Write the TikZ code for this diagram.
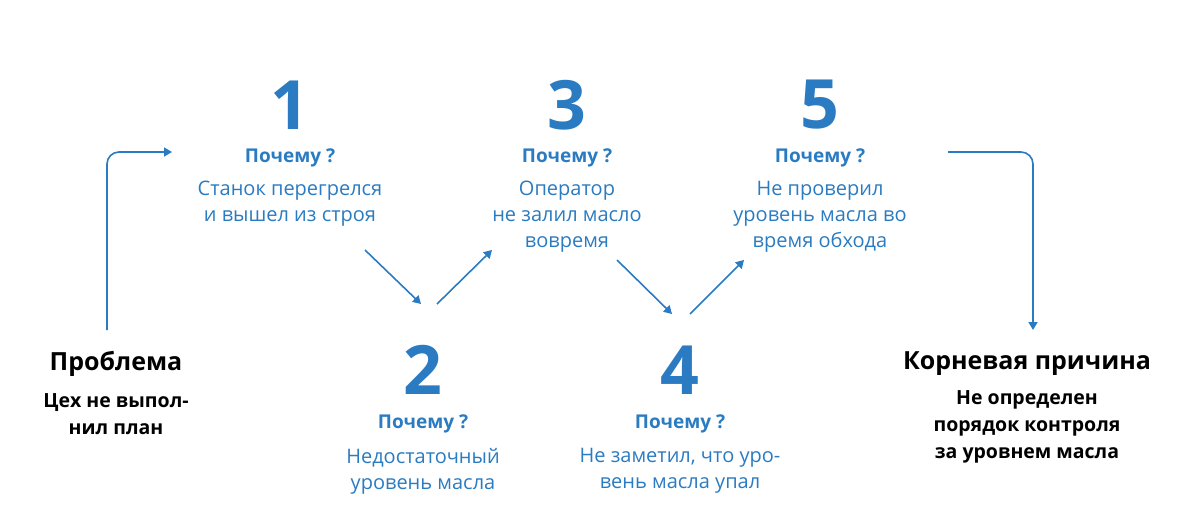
\documentclass[tikz,border=0pt]{standalone}
\usepackage{fontspec}
\setmainfont{Open Sans}
\usetikzlibrary{arrows.meta}
\definecolor{whyblue}{HTML}{2A7BC1}
\tikzset{
  num/.style={text=whyblue,font=\fontsize{68}{68}\selectfont\bfseries},
  why/.style={text=whyblue,font=\fontsize{19}{19}\selectfont\bfseries},
  ans/.style={text=whyblue,font=\fontsize{20}{26}\selectfont,align=center},
  head/.style={font=\fontsize{25}{25}\selectfont\bfseries},
  sub/.style={font=\fontsize{19.5}{27}\selectfont\bfseries,align=center},
  link/.style={draw=whyblue,line width=1.6pt,-{Triangle[width=9pt,length=8pt]}},
}
\begin{document}
\begin{tikzpicture}[x=1pt,y=-1pt]
  \useasboundingbox (0,0) rectangle (1201,519);

  \node[num] (n1) at (290,105) {1};
  \node[why] (w1) at (290,158) {Почему ?};
  \node[ans] (a1) at (290,204) {Станок перегрелся\\и вышел из строя};

  \node[num] (n2) at (423,370) {2};
  \node[why] (w2) at (423,424) {Почему ?};
  \node[ans] (a2) at (423,471) {Недостаточный\\уровень масла};

  \node[num] (n3) at (567,105) {3};
  \node[why] (w3) at (567,158) {Почему ?};
  \node[ans] (a3) at (567,217) {Оператор\\не залил масло\\вовремя};

  \node[num] (n4) at (680,370) {4};
  \node[why] (w4) at (680,424) {Почему ?};
  \node[ans] (a4) at (680,471) {Не заметил, что уро-\\вень масла упал};

  \node[num] (n5) at (820,105) {5};
  \node[why] (w5) at (820,158) {Почему ?};
  \node[ans] (a5) at (820,217) {Не проверил\\уровень масла во\\время обхода};

  \node[head] (pr) at (116,364) {Проблема};
  \node[sub] (prt) at (116,414) {Цех не выпол-\\нил план};

  \node[head] (rc) at (1027,364) {Корневая причина};
  \node[sub] (rct) at (1027,427) {Не определен\\порядок контроля\\за уровнем масла};

  % connectors
  \coordinate (s0) at (107,330);
  \coordinate (e0) at (172,152);
  \coordinate (s6) at (948,152);
  \coordinate (e6) at (1033,330);
  \coordinate (p1) at (365,250); \coordinate (q1) at (421,304);
  \coordinate (p2) at (437,304); \coordinate (q2) at (492,250);
  \coordinate (p3) at (617,260); \coordinate (q3) at (672,314);
  \coordinate (p4) at (690,314); \coordinate (q4) at (744,260);

  \draw[link,rounded corners=12pt] (s0) |- (e0);
  \draw[link,rounded corners=12pt] (s6) -| (e6);
  \draw[link] (p1) -- (q1);
  \draw[link] (p2) -- (q2);
  \draw[link] (p3) -- (q3);
  \draw[link] (p4) -- (q4);
\end{tikzpicture}
\end{document}
